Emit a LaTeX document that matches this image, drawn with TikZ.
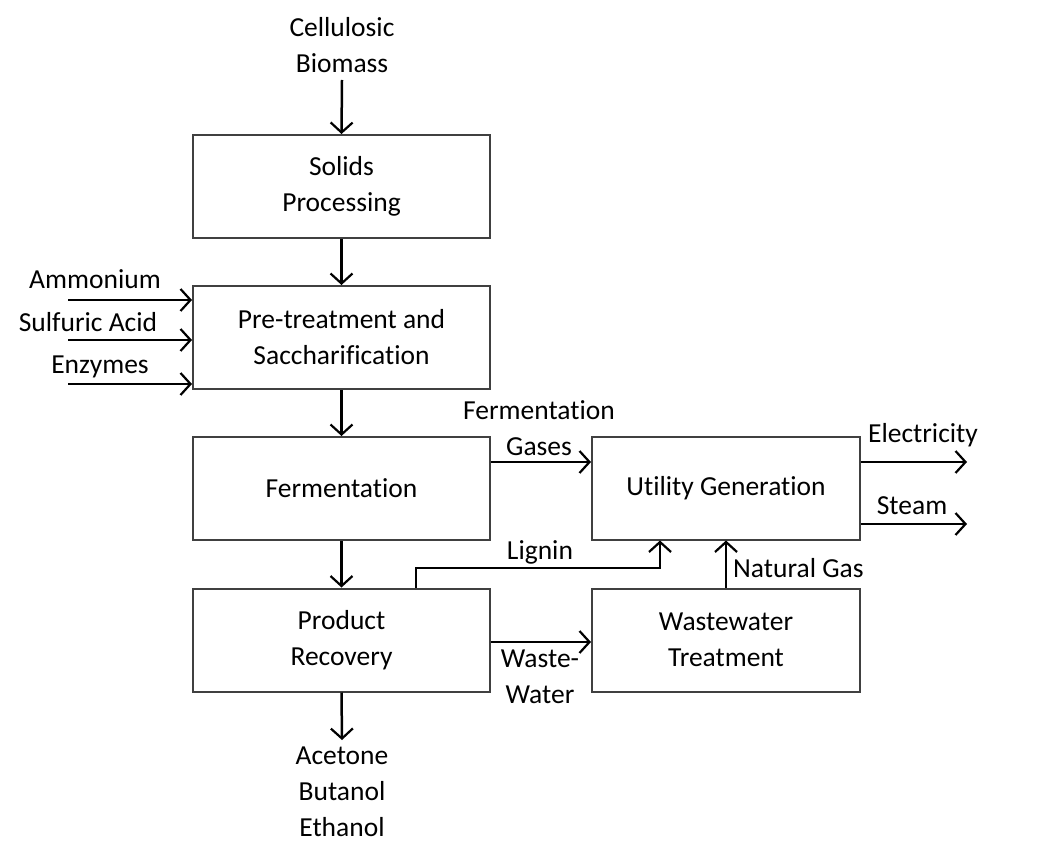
\documentclass[tikz,border=0pt]{standalone}
\usepackage{fontspec}
\setmainfont{Carlito}[Ligatures=NoCommon]
\usetikzlibrary{arrows.meta}
\begin{document}
\begin{tikzpicture}[x=1pt,y=-1pt,
  box/.style={draw=black!75, line width=2pt, minimum width=297pt, minimum height=103pt, inner sep=0pt, align=center, font=\fontsize{27.5}{36}\selectfont},
  lbl/.style={align=center, inner sep=0pt, font=\fontsize{27.5}{36}\selectfont},
  flow/.style={line width=2.5pt, -{Straight Barb[length=10pt,width=22pt,line width=2.2pt]}}]
\useasboundingbox (0,0) rectangle (1040,842);
% boxes
\node[box] (solids) at (341.5,186.5) {Solids\\Processing};
\node[box] (pre) at (341.5,337.5) {Pre-treatment and\\Saccharification};
\node[box] (ferm) at (341.5,488.5) {Fermentation};
\node[box] (prod) at (341.5,640) {Product\\Recovery};
\node[box, minimum width=268pt] (util) at (726,488) {Utility Generation};
\node[box, minimum width=268pt] (waste) at (726,640) {Wastewater\\Treatment};
% labels
\node[lbl] (bio) at (342,45) {Cellulosic\\Biomass};
\node[lbl] (amm) at (95,279) {Ammonium};
\node[lbl] (sulf) at (88,322) {Sulfuric Acid};
\node[lbl] (enz) at (100,367) {Enzymes};
\node[lbl] (fgas) at (539,428) {Fermentation\\Gases};
\node[lbl] (elec) at (923,435) {Electricity};
\node[lbl] (steam) at (912,506) {Steam};
\node[lbl] (lig) at (540,552) {Lignin};
\node[lbl, anchor=west] (ng) at (733,568) {Natural Gas};
\node[lbl] (ww) at (540,677) {Waste-\\Water};
\node[lbl] (abe) at (342,792) {Acetone\\Butanol\\Ethanol};
% free ends
\coordinate (ammin) at (68,300);
\coordinate (sulfin) at (68,340);
\coordinate (enzin) at (68,384);
\coordinate (elecout) at (967,462);
\coordinate (steamout) at (967,524);
\coordinate (abeout) at (342,740);
\coordinate (bioin) at (342,80);
\coordinate (lgc) at (660,568);
% connectors
\draw[flow] (bioin) -- (solids.north);
\draw[flow] (solids.south) -- (pre.north);
\draw[flow] (pre.south) -- (ferm.north);
\draw[flow] (ferm.south) -- (prod.north);
\draw[flow] (prod.south) -- (abeout);
\draw[flow] (ammin) -- (pre.west |- ammin);
\draw[flow] (sulfin) -- (pre.west |- sulfin);
\draw[flow] (enzin) -- (pre.west |- enzin);
\draw[flow] (ferm.east |- 0,462) -- (util.west |- 0,462);
\draw[flow] (prod.east |- 0,642) -- (waste.west |- 0,642);
\draw[flow] (util.east |- elecout) -- (elecout);
\draw[flow] (util.east |- steamout) -- (steamout);
\draw[flow] ([xshift=74.5pt]prod.north) |- (lgc) -- (util.south -| lgc);
\draw[flow] (waste.north) -- (util.south);
\end{tikzpicture}
\end{document}
